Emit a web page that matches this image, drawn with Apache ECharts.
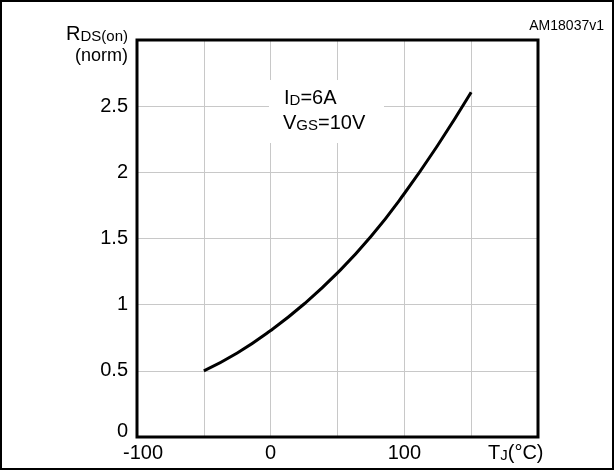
<!DOCTYPE html>
<html><head><meta charset="utf-8">
<script src="https://cdn.jsdelivr.net/npm/echarts@6/dist/echarts.min.js"></script>
<style>html,body{margin:0;padding:0;background:#fff}#c{width:615px;height:471px}</style>
</head><body><div id="c"></div>
<script>
var tempC = [-50, -25, 0, 25, 50, 75, 100, 125, 150];
var rdsNorm = [0.5, 0.635, 0.805, 1.005, 1.24, 1.515, 1.84, 2.205, 2.605];
var xTickLabels = {'-100':'-100','0':'0','100':'100'};
var yTickLabels = ['0','0.5','1','1.5','2','2.5'];

var FONT = 'Liberation Sans, Arial, sans-serif';
var chart = echarts.init(document.getElementById('c'));
var option = {
  animation: false,
  backgroundColor: '#fff',
  grid: {left: 137, right: 77, top: 40, bottom: 34, containLabel: false},
  xAxis: {
    type: 'value', min: -100, max: 200, interval: 50,
    axisLine: {show: false}, axisTick: {show: false},
    splitLine: {show: true, lineStyle: {color: '#c8c8c8', width: 1}},
    axisLabel: {
      margin: 6, fontFamily: FONT, fontSize: 20, color: '#000',
      formatter: function (v) {
        var s = xTickLabels[String(v)];
        if (!s) return '';
        return v === -100 ? '{m|' + s + '}' : s;
      },
      rich: {m: {fontFamily: FONT, fontSize: 20, color: '#000', padding: [0, 0, 0, 12]}}
    }
  },
  yAxis: {
    type: 'value', min: 0, max: 3, interval: 0.5,
    axisLine: {show: false}, axisTick: {show: false},
    splitLine: {show: true, lineStyle: {color: '#c8c8c8', width: 1}},
    axisLabel: {
      margin: 9, fontFamily: FONT, fontSize: 20, color: '#000',
      formatter: function (v, i) {
        var s = yTickLabels[i];
        if (s === undefined) return '';
        return i === 0 ? '{z|' + s + '}' : s;
      },
      rich: {z: {fontFamily: FONT, fontSize: 20, color: '#000', padding: [0, 0, 12, 0]}}
    }
  },
  series: [{
    type: 'line', smooth: true, symbol: 'none',
    data: tempC.map(function (t, i) { return [t, rdsNorm[i]]; }),
    lineStyle: {color: '#000', width: 3}, z: 5
  }]
};
chart.setOption(option);

var tl = chart.convertToPixel({gridIndex: 0}, [-100, 3]);
var br = chart.convertToPixel({gridIndex: 0}, [200, 0]);
var sub = function (fs) { return {s: {fontSize: fs, fontFamily: FONT, fill: '#000', verticalAlign: 'bottom'}}; };
chart.setOption({
  graphic: [
    {type: 'rect', z: 1, shape: {x: 269, y: 80, width: 115, height: 63}, style: {fill: '#fff'}},
    {type: 'text', z: 10, left: 284, top: 88,
      style: {text: 'I{s|D}=6A', fontFamily: FONT, fontSize: 20, fill: '#000', rich: sub(15)}},
    {type: 'text', z: 10, left: 283, top: 113,
      style: {text: 'V{s|GS}=10V', fontFamily: FONT, fontSize: 20, fill: '#000', rich: sub(15)}},
    {type: 'rect', z: 20, shape: {x: tl[0], y: tl[1], width: br[0] - tl[0], height: br[1] - tl[1]},
      style: {fill: 'none', stroke: '#000', lineWidth: 3}},
    {type: 'rect', z: 20, shape: {x: 1, y: 1, width: 612, height: 468},
      style: {fill: 'none', stroke: '#000', lineWidth: 2}},
    {type: 'text', z: 10, right: 487, top: 24,
      style: {text: 'R{s|DS(on)}', fontFamily: FONT, fontSize: 20, fill: '#000',
        rich: sub(15)}},
    {type: 'text', z: 10, right: 487, top: 47,
      style: {text: '(norm)', fontFamily: FONT, fontSize: 18, fill: '#000'}},
    {type: 'text', z: 10, right: 11, top: 19,
      style: {text: 'AM18037v1', fontFamily: FONT, fontSize: 14, fill: '#000'}},
    {type: 'text', z: 10, left: 488, top: 443,
      style: {text: 'T{s|J}(°C)', fontFamily: FONT, fontSize: 20, fill: '#000', rich: sub(15)}}
  ]
});
</script>
</body></html>
